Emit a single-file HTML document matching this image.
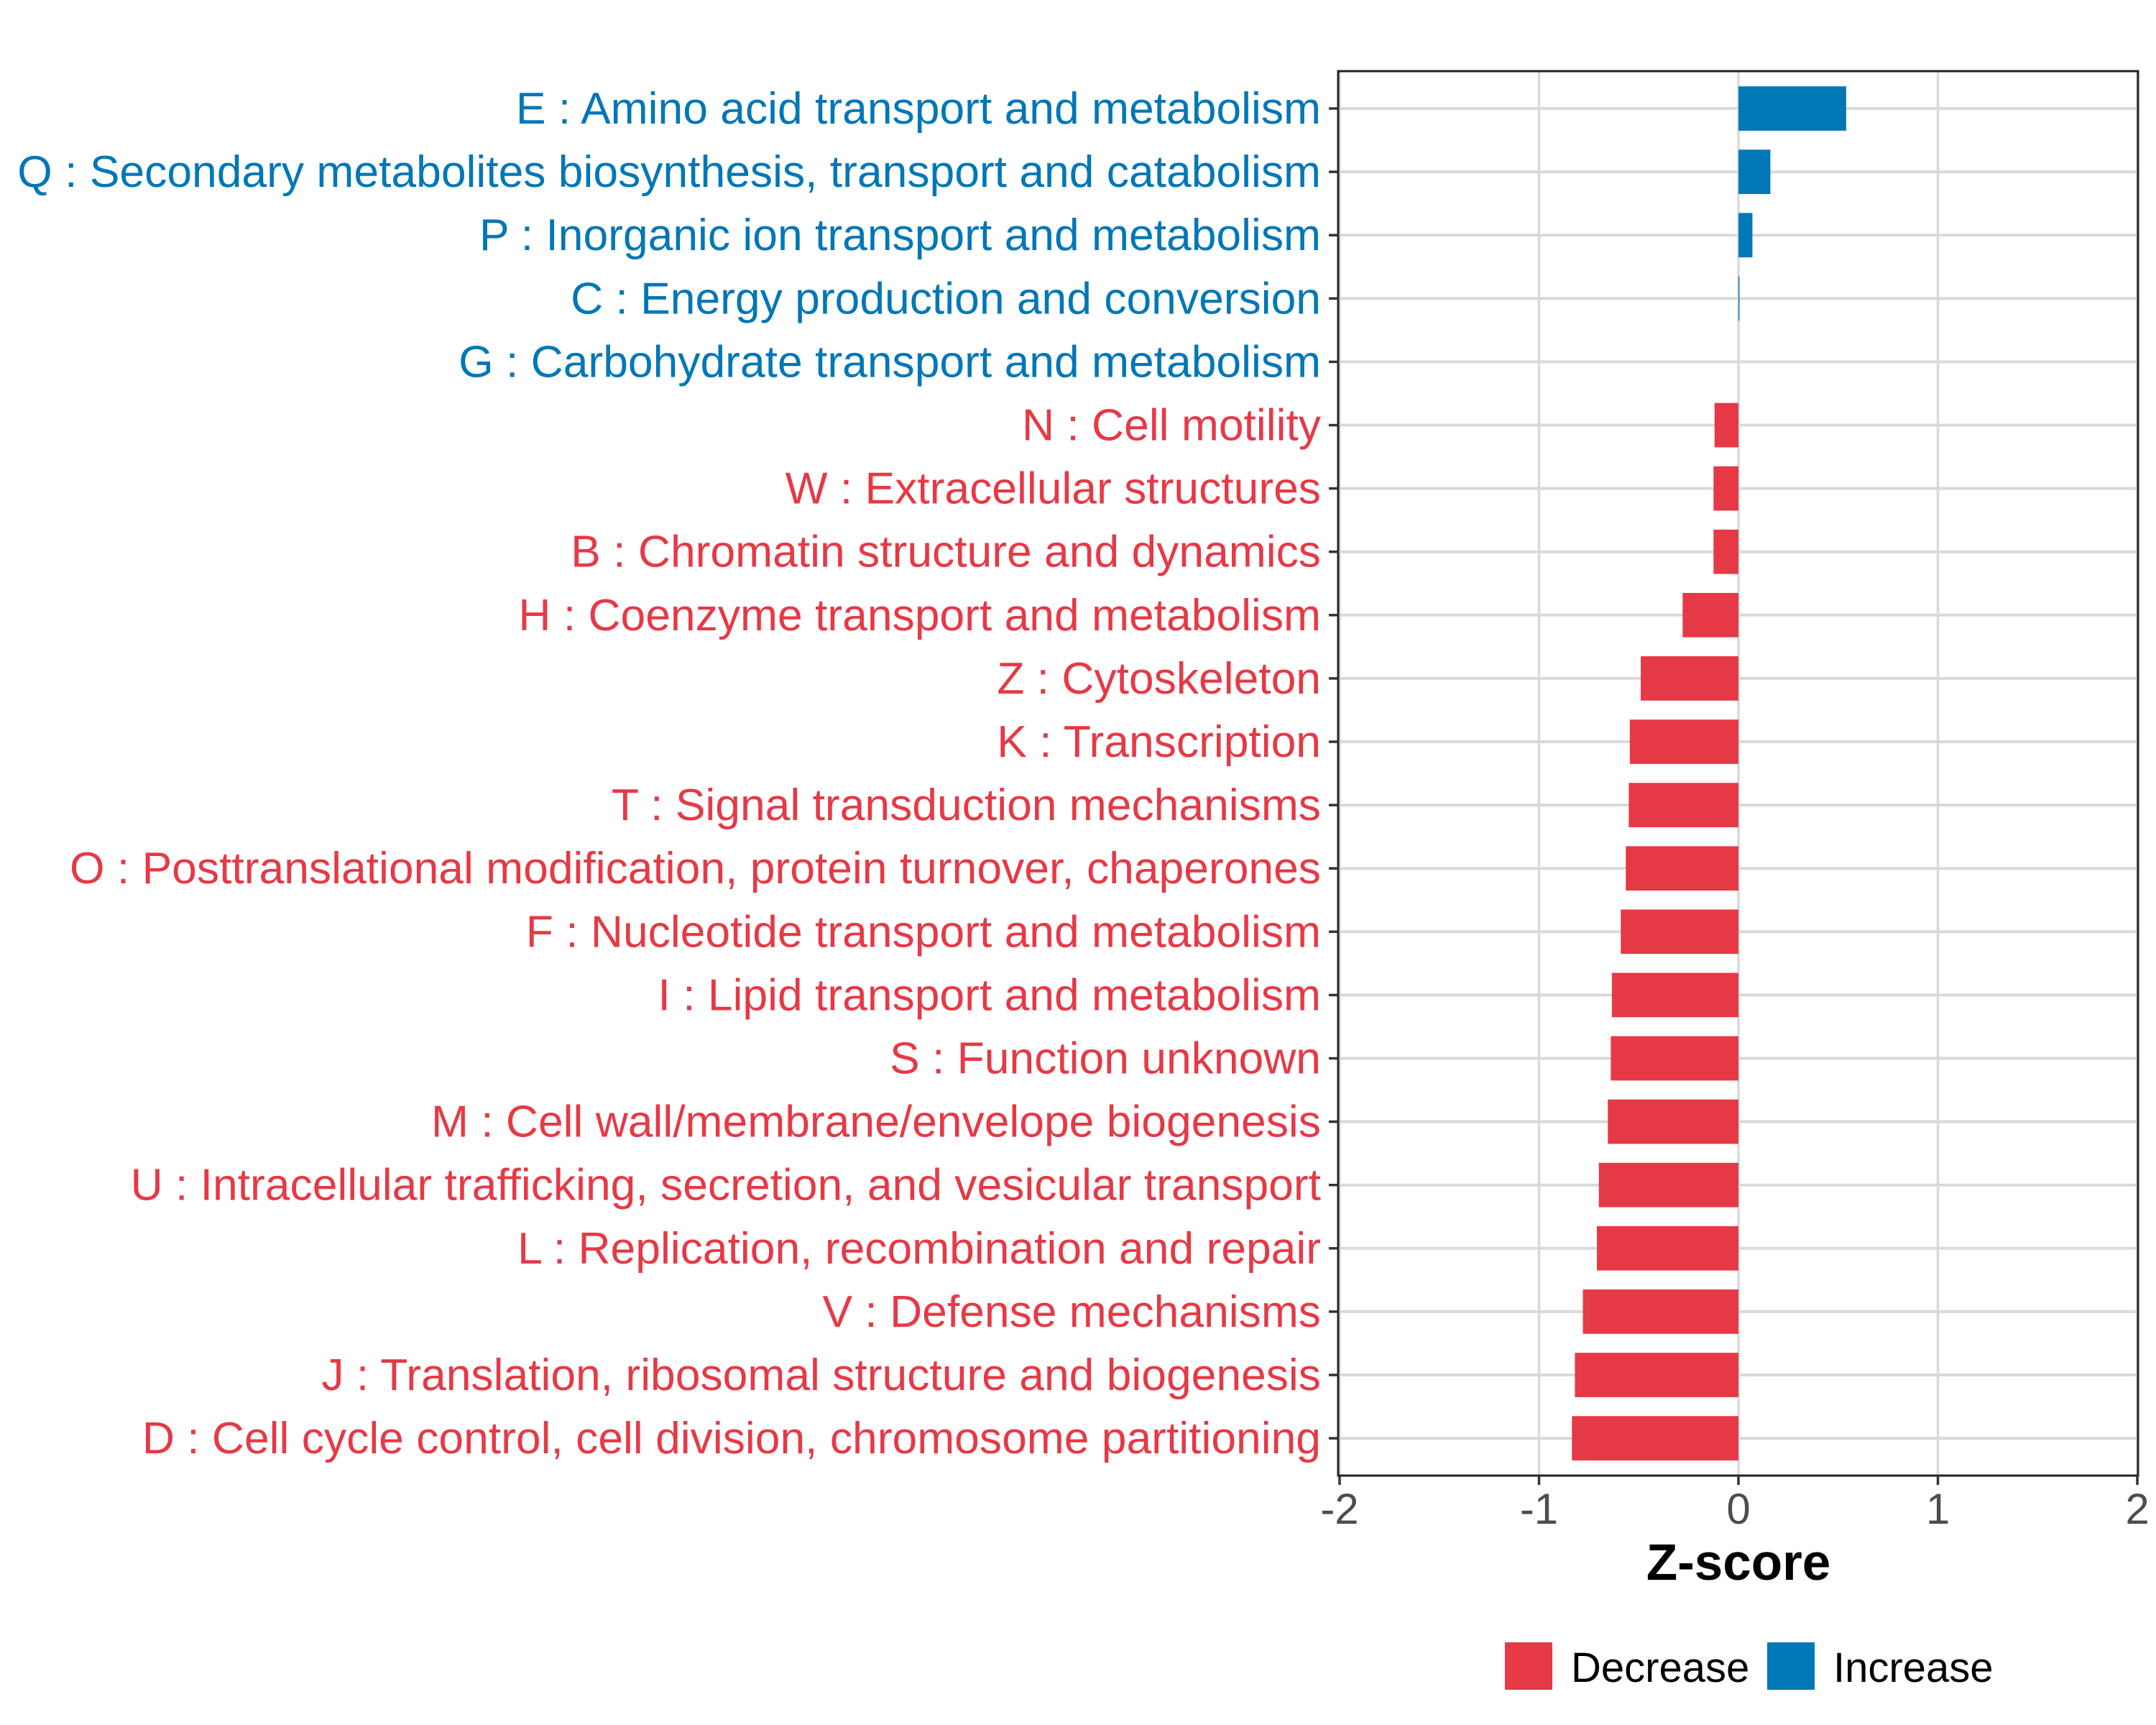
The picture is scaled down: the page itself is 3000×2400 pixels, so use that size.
<!DOCTYPE html>
<html><head><meta charset="utf-8"><style>
html,body{margin:0;padding:0;background:#fff;}
svg{display:block;font-family:"Liberation Sans",Arial,sans-serif;}
</style></head><body>
<svg id="chart" width="3000" height="2400" viewBox="0 0 3000 2400">
<rect x="0" y="0" width="3000" height="2400" fill="#fff"/>
<g id="grid"></g>
<g id="bars"></g>
<rect x="1862" y="99" width="1113" height="1954" fill="none" stroke="#222" stroke-width="3"/>
<g id="ylabels"></g>
<g id="xticks"></g>
<text x="2419" y="2198" font-size="71" font-weight="bold" text-anchor="middle" fill="#000">Z-score</text>
<g>
<rect x="2094" y="2285" width="66" height="66" fill="#E63946"/>
<text x="2186" y="2340" font-size="58" fill="#000">Decrease</text>
<rect x="2459" y="2285" width="66" height="66" fill="#0077B6"/>
<text x="2551" y="2340" font-size="58" fill="#000">Increase</text>
</g>
</svg>
<script>
const categories = ["E : Amino acid transport and metabolism","Q : Secondary metabolites biosynthesis, transport and catabolism","P : Inorganic ion transport and metabolism","C : Energy production and conversion","G : Carbohydrate transport and metabolism","N : Cell motility","W : Extracellular structures","B : Chromatin structure and dynamics","H : Coenzyme transport and metabolism","Z : Cytoskeleton","K : Transcription","T : Signal transduction mechanisms","O : Posttranslational modification, protein turnover, chaperones","F : Nucleotide transport and metabolism","I : Lipid transport and metabolism","S : Function unknown","M : Cell wall/membrane/envelope biogenesis","U : Intracellular trafficking, secretion, and vesicular transport","L : Replication, recombination and repair","V : Defense mechanisms","J : Translation, ribosomal structure and biogenesis","D : Cell cycle control, cell division, chromosome partitioning"];
const zscores = [0.54,0.16,0.07,0.005,0,-0.12,-0.125,-0.125,-0.28,-0.49,-0.545,-0.55,-0.565,-0.59,-0.635,-0.64,-0.655,-0.70,-0.71,-0.78,-0.82,-0.835];
const directions = ["Increase","Increase","Increase","Increase","Increase","Decrease","Decrease","Decrease","Decrease","Decrease","Decrease","Decrease","Decrease","Decrease","Decrease","Decrease","Decrease","Decrease","Decrease","Decrease","Decrease","Decrease"];
const xTicks = [-2,-1,0,1,2];
const xTickLabels = ["-2","-1","0","1","2"];

const NS="http://www.w3.org/2000/svg";
const colors={Increase:"#0077B6",Decrease:"#E63946"};
function xScale(v){return 2419+v*277.5;}
function yScale(i){return 151+i*88.1;}
const bandH=61.7;
function mk(tag,attrs,parent){const e=document.createElementNS(NS,tag);for(const k in attrs)e.setAttribute(k,attrs[k]);parent.appendChild(e);return e;}
const grid=document.getElementById('grid'),bars=document.getElementById('bars'),yl=document.getElementById('ylabels'),xt=document.getElementById('xticks');
xTicks.forEach((t,i)=>{
  const x=xScale(t);
  const g=mk('line',{x1:x,x2:x,y1:99,y2:2053,stroke:"#d9d9d9","stroke-width":3.5},grid);
  
  
  const tk=mk('line',{x1:x,x2:x,y1:2053,y2:2066,stroke:"#333","stroke-width":3.5},xt);
  
  
  const tl=mk('text',{x:x,y:2120,"font-size":60,"text-anchor":"middle",fill:"#4d4d4d"},xt);
  tl.textContent=xTickLabels[i];
  
  
});
categories.forEach((c,i)=>{
  const y=yScale(i);
  const g=mk('line',{x1:1862,x2:2975,y1:y,y2:y,stroke:"#d9d9d9","stroke-width":4},grid);
  
  
  const v=zscores[i];
  const x0=xScale(0),x1=xScale(v);
  const b=mk('rect',{x:Math.min(x0,x1),y:y-bandH/2,width:Math.abs(x1-x0),height:bandH,fill:colors[directions[i]]},bars);
  
  
  const tk=mk('line',{x1:1849,x2:1862,y1:y,y2:y,stroke:"#333","stroke-width":3.5},yl);
  
  
  const t=mk('text',{x:1838,y:y+21,"font-size":62.4,"text-anchor":"end",fill:colors[directions[i]]},yl);
  t.textContent=c;
  
  
});
</script>
</body></html>
